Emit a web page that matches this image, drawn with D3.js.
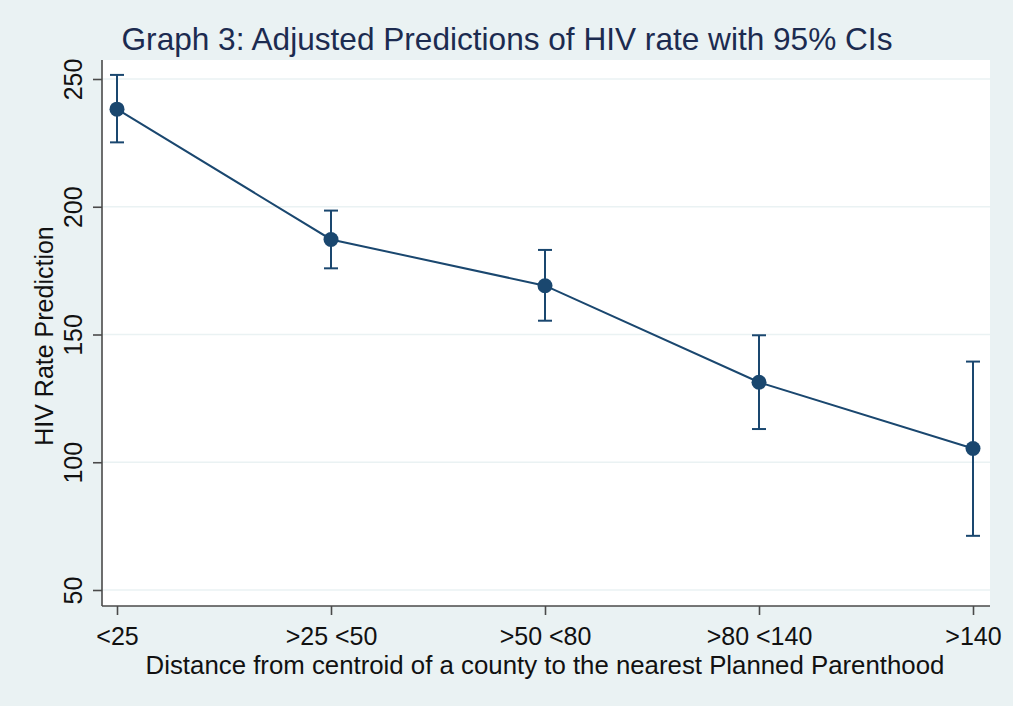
<!DOCTYPE html>
<html>
<head>
<meta charset="utf-8">
<script src="https://cdn.jsdelivr.net/npm/d3@7"></script>
<style>
  html, body { margin: 0; padding: 0; background: #eaf2f3; }
  svg { display: block; }
  text { font-family: "Liberation Sans", Arial, sans-serif; }
</style>
</head>
<body>
<svg id="chart" width="1013" height="706"></svg>
<script>
// Distance bands and adjusted predictions with 95% confidence limits
const categories = ["<25", ">25 <50", ">50 <80", ">80 <140", ">140"];
const predicted  = [238.2, 187.2, 169.1, 131.3, 105.4];
const lowerCI    = [225.2, 175.9, 155.4, 113.0, 71.2];
const upperCI    = [251.6, 198.5, 183.1, 149.7, 139.4];
const yTicks     = [50, 100, 150, 200, 250];

const W = 1013, H = 706;
const plot = { left: 102, right: 990, top: 60, bottom: 606 };
const navy = "#1a476f";
const axisGrey = "#4a4a4a";

const svg = d3.select("#chart");

svg.append("rect").attr("width", W).attr("height", H).attr("fill", "#eaf2f3");
svg.append("rect")
  .attr("x", plot.left).attr("y", plot.top)
  .attr("width", plot.right - plot.left).attr("height", plot.bottom - plot.top)
  .attr("fill", "#ffffff");

const x = d3.scalePoint()
  .domain(categories)
  .range([117, 973]);

const y = d3.scaleLinear()
  .domain([50, 250])
  .range([590, 79]);

// horizontal grid
svg.append("g").selectAll("line").data(yTicks).join("line")
  .attr("x1", plot.left).attr("x2", plot.right)
  .attr("y1", d => y(d)).attr("y2", d => y(d))
  .attr("stroke", "#eaf2f3").attr("stroke-width", 1.5);

// y axis with labels rotated to read upward
const yAxis = svg.append("g")
  .attr("transform", `translate(${plot.left},0)`)
  .call(d3.axisLeft(y).tickValues(yTicks).tickSize(9).tickFormat(d3.format("d")));
yAxis.select(".domain").attr("d", `M0,${plot.top}V${plot.bottom}`).attr("stroke", axisGrey).attr("stroke-width", 1.6);
yAxis.selectAll(".tick line").attr("stroke", axisGrey).attr("stroke-width", 1.6);
yAxis.selectAll(".tick text")
  .attr("x", 0).attr("y", 0).attr("dy", null)
  .attr("text-anchor", "middle")
  .attr("transform", "translate(-20,0) rotate(-90)")
  .attr("font-size", 25).attr("fill", "#111");

// x axis
const xAxis = svg.append("g")
  .attr("transform", `translate(0,${plot.bottom})`)
  .call(d3.axisBottom(x).tickSize(9));
xAxis.select(".domain").attr("d", `M${plot.left},0H${plot.right}`).attr("stroke", axisGrey).attr("stroke-width", 1.6);
xAxis.selectAll(".tick line").attr("stroke", axisGrey).attr("stroke-width", 1.6);
xAxis.selectAll(".tick text")
  .attr("y", 39).attr("dy", null)
  .attr("font-size", 25).attr("fill", "#111");

// axis titles
svg.append("text")
  .attr("transform", `translate(53,${(plot.top + plot.bottom) / 2 + 3}) rotate(-90)`)
  .attr("text-anchor", "middle")
  .attr("font-size", 25).attr("fill", "#111")
  .text("HIV Rate Prediction");

svg.append("text")
  .attr("x", 545).attr("y", 674)
  .attr("text-anchor", "middle")
  .attr("font-size", 25.8).attr("fill", "#111")
  .text("Distance from centroid of a county to the nearest Planned Parenthood");

// title
svg.append("text")
  .attr("x", 507).attr("y", 50)
  .attr("text-anchor", "middle")
  .attr("font-size", 31.6).attr("fill", "#1c2b50")
  .text("Graph 3: Adjusted Predictions of HIV rate with 95% CIs");

// confidence intervals
const rows = categories.map((c, i) => ({ c, p: predicted[i], lo: lowerCI[i], hi: upperCI[i] }));
const ci = svg.append("g").attr("stroke", navy).attr("stroke-width", 2);
ci.selectAll("line.bar").data(rows).join("line").attr("class", "bar")
  .attr("x1", d => x(d.c)).attr("x2", d => x(d.c))
  .attr("y1", d => y(d.lo)).attr("y2", d => y(d.hi));
ci.selectAll("line.capHi").data(rows).join("line").attr("class", "capHi")
  .attr("x1", d => x(d.c) - 7).attr("x2", d => x(d.c) + 7)
  .attr("y1", d => y(d.hi)).attr("y2", d => y(d.hi));
ci.selectAll("line.capLo").data(rows).join("line").attr("class", "capLo")
  .attr("x1", d => x(d.c) - 7).attr("x2", d => x(d.c) + 7)
  .attr("y1", d => y(d.lo)).attr("y2", d => y(d.lo));

// connecting line
svg.append("path")
  .datum(rows)
  .attr("fill", "none").attr("stroke", navy).attr("stroke-width", 2)
  .attr("d", d3.line().x(d => x(d.c)).y(d => y(d.p)));

// markers
svg.append("g").selectAll("circle").data(rows).join("circle")
  .attr("cx", d => x(d.c)).attr("cy", d => y(d.p))
  .attr("r", 7.5).attr("fill", navy);
</script>
</body>
</html>
